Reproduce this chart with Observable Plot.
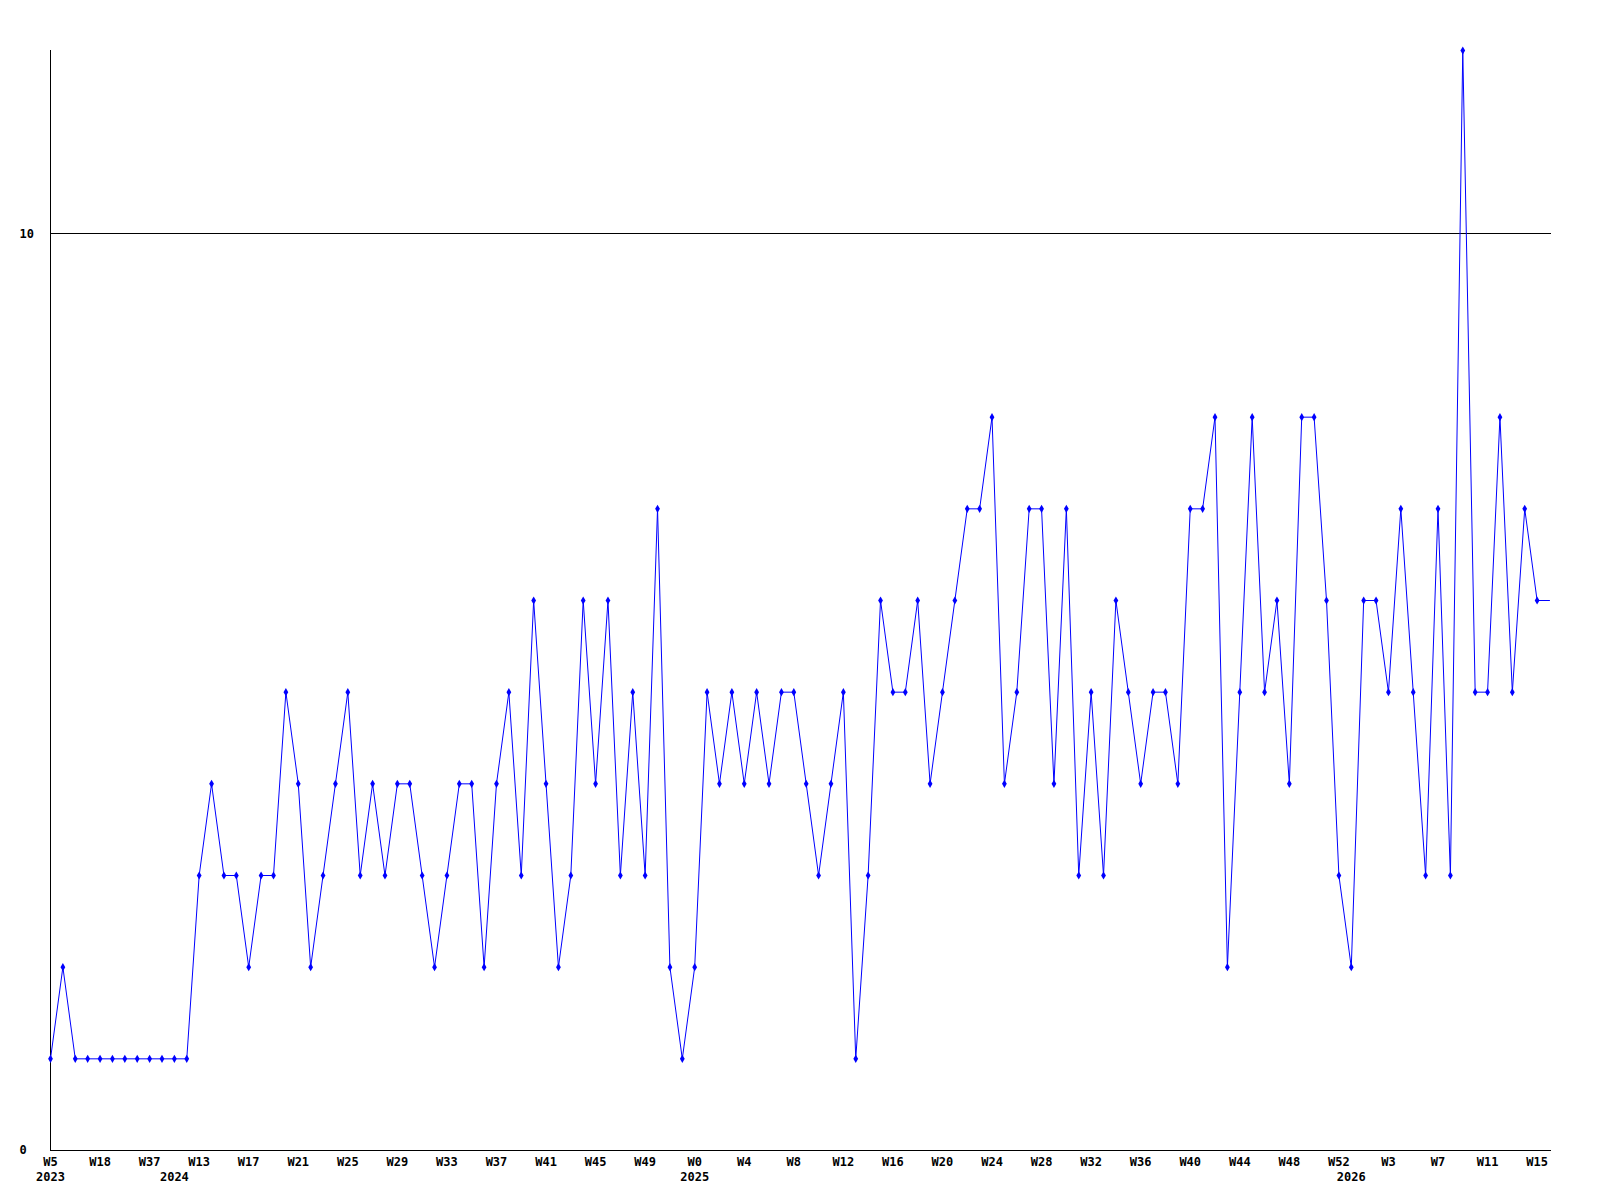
<!DOCTYPE html>
<html>
<head>
<meta charset="utf-8">
<script src="https://cdn.jsdelivr.net/npm/d3@7"></script>
<script src="https://cdn.jsdelivr.net/npm/@observablehq/plot@0.6"></script>
<style>
  html, body { margin: 0; padding: 0; background: #fff; }
</style>
</head>
<body>
<div id="chart"></div>
<script>
// Years and the number of weekly points belonging to each
const years = [2023, 2024, 2025, 2026];
const yearCounts = [10, 42, 53, 17];

// Week numbers of each point (in order)
const weekNums = [
  5, 8, 11, 14, 18, 22, 27, 32, 37, 44,
  8, 11, 13, 14, 15, 16, 17, 18, 19, 20, 21, 22, 23, 24, 25, 26, 27, 28, 29, 30,
  31, 32, 33, 34, 35, 36, 37, 38, 39, 40, 41, 42, 43, 44, 45, 46, 47, 48, 49, 50, 51, 52,
  0, 1, 2, 3, 4, 5, 6, 7, 8, 9, 10, 11, 12, 13, 14, 15, 16, 17, 18, 19, 20, 21, 22, 23, 24, 25,
  26, 27, 28, 29, 30, 31, 32, 33, 34, 35, 36, 37, 38, 39, 40, 41, 42, 43, 44, 45, 46, 47, 48, 49, 50, 51, 52,
  0, 1, 2, 3, 4, 5, 6, 7, 8, 9, 10, 11, 12, 13, 14, 15, 16
];

// Weekly counts
const values = [
  1, 2, 1, 1, 1, 1, 1, 1, 1, 1,
  1, 1, 3, 4, 3, 3, 2, 3, 3, 5,
  4, 2, 3, 4, 5, 3, 4, 3, 4, 4,
  3, 2, 3, 4, 4, 2, 4, 5, 3, 6,
  4, 2, 3, 6, 4, 6, 3, 5, 3, 7,
  2, 1, 2, 5, 4, 5, 4, 5, 4, 5,
  5, 4, 3, 4, 5, 1, 3, 6, 5, 5,
  6, 4, 5, 6, 7, 7, 8, 4, 5, 7,
  7, 4, 7, 3, 5, 3, 6, 5, 4, 5,
  5, 4, 7, 7, 8, 2, 5, 8, 5, 6,
  4, 8, 8, 6, 3, 2, 6, 6, 5, 7,
  5, 3, 7, 3, 12, 5, 5, 8, 5, 7,
  6, 6
];

// Number of points that carry a marker (the last, current week has none)
const markedCount = 121;
// Week ticks are labelled every 4th point
const tickEvery = 4;
const yTicks = [0, 10];

// Build table
const yearOf = [];
years.forEach((y, j) => { for (let k = 0; k < yearCounts[j]; k++) yearOf.push(y); });
const data = values.map((v, i) => ({
  key: yearOf[i] + "-W" + weekNums[i] + "-" + i,
  year: yearOf[i],
  week: weekNums[i],
  v,
  i
}));
const keys = data.map(d => d.key);
const byKey = new Map(data.map(d => [d.key, d]));
const weekTicks = data.filter(d => d.i < markedCount && d.i % tickEvery === 0).map(d => d.key);
const yearTicks = data.filter((d, i) => i === 0 || data[i - 1].year !== d.year).map(d => d.key);

const chart = Plot.plot({
  width: 1600,
  height: 1200,
  marginLeft: 50,
  marginRight: 51,
  marginTop: 50,
  marginBottom: 50,
  style: {
    fontFamily: "'DejaVu Sans Mono', 'Liberation Mono', monospace",
    fontSize: "12px",
    fontWeight: "bold",
    background: "#ffffff",
    color: "#000000"
  },
  x: { type: "point", domain: keys, padding: 0, label: null },
  y: { domain: [0, 12], label: null },
  marks: [
    Plot.ruleY(yTicks, { stroke: "#000000", strokeWidth: 1, insetRight: -2, shapeRendering: "crispEdges" }),
    Plot.ruleX([keys[0]], { stroke: "#000000", strokeWidth: 1, shapeRendering: "crispEdges" }),
    Plot.line(data, { x: "key", y: "v", stroke: "#0000ff", strokeWidth: 1 }),
    Plot.dot(data.slice(0, markedCount), { x: "key", y: "v", symbol: "diamond", r: 2.5, fill: "#0000ff", stroke: "none" }),
    Plot.axisX({ ticks: weekTicks, tickFormat: k => "W" + byKey.get(k).week, tickSize: 0, tickPadding: 7 }),
    Plot.axisX({ ticks: yearTicks, tickFormat: k => String(byKey.get(k).year), tickSize: 0, tickPadding: 22 }),
    Plot.axisY({ ticks: yTicks, tickSize: 0, tickPadding: 0, textAnchor: "start", dx: -31, tickFormat: d => String(d) })
  ]
});
document.getElementById("chart").appendChild(chart);
</script>
</body>
</html>
